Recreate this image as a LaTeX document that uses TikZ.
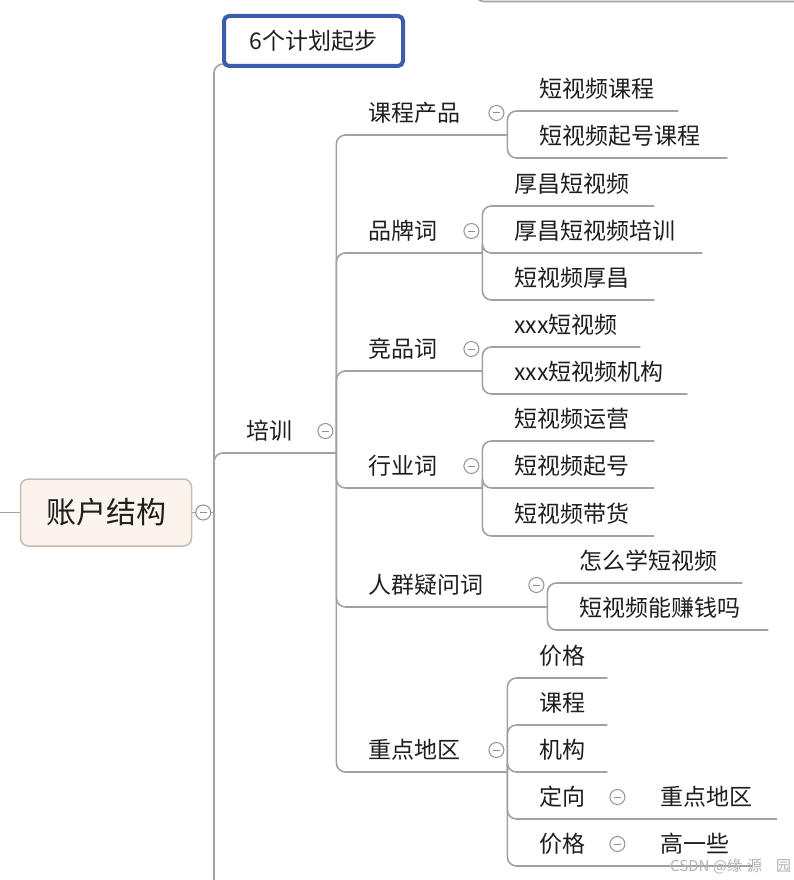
\documentclass[tikz,border=0pt]{standalone}
\usepackage{fontspec}
\setmainfont{Noto Sans CJK SC}
\usetikzlibrary{calc}
\definecolor{linegray}{HTML}{A2A2A2}
\definecolor{txt}{HTML}{1E1E1E}
\definecolor{selblue}{HTML}{3A5DAE}
\definecolor{rootfill}{HTML}{FBF4EC}
\definecolor{rootdraw}{HTML}{C6BDB2}
\pgfdeclarelayer{back}
\pgfdeclarelayer{bg}
\pgfsetlayers{back,bg,main}
\begin{document}
\begin{tikzpicture}[x=1pt,y=-1pt,
  conn/.style={draw=linegray, line width=1.6pt, rounded corners=9pt},
  tp/.style={anchor=south west, inner xsep=0pt, inner ysep=10pt, text depth=3pt,
    text height=18pt, align=left, text=txt, font=\fontsize{23}{26}\selectfont},
  col/.style={circle, draw=linegray!90!black, fill=white, minimum size=15pt, inner sep=0pt,
    line width=1pt, path picture={\draw[linegray!90!black, line width=1pt]
      ([xshift=-3.5pt]path picture bounding box.center) -- ([xshift=3.5pt]path picture bounding box.center);}},
  rootbox/.style={draw=rootdraw, fill=rootfill, line width=1.5pt, rounded corners=8pt,
    minimum width=171pt, minimum height=67pt, inner sep=0pt, text=txt,
    font=\fontsize{30}{34}\selectfont},
  selbox/.style={draw=selblue, fill=white, line width=4pt, rounded corners=5pt,
    minimum width=179pt, minimum height=50pt, inner sep=0pt, text=txt,
    font=\fontsize{23}{26}\selectfont},
  wm/.style={anchor=west, inner sep=0pt, text=gray!60, font=\fontsize{15}{17}\selectfont}]
\useasboundingbox (0,0) rectangle (794,880);
\begin{pgfonlayer}{back}
  \fill[white] (0,0) rectangle (794,880);
\end{pgfonlayer}

% root and first level
\node[rootbox] (A) at (106,512.5) {账户结构};
\node[selbox] (S) at (313.5,41) {6个计划起步};
\node[tp, text width=122pt] (P) at (214,453) {\noindent\hspace*{32pt}培训};

% second level
\node[tp, text width=171pt] (K) at (336,135) {\noindent\hspace*{32pt}课程产品};
\node[tp, text width=146pt] (B) at (336,253) {\noindent\hspace*{32pt}品牌词};
\node[tp, text width=146pt] (J) at (336,371) {\noindent\hspace*{32pt}竞品词};
\node[tp, text width=146pt] (H) at (336,488) {\noindent\hspace*{32pt}行业词};
\node[tp, text width=211pt] (R) at (336,607) {\noindent\hspace*{32pt}人群疑问词};
\node[tp, text width=171pt] (Z) at (336,772) {\noindent\hspace*{32pt}重点地区};

% third level
\node[tp, text width=171pt] (K1) at (507,111) {\noindent\hspace*{32pt}短视频课程};
\node[tp, text width=220pt] (K2) at (507,158) {\noindent\hspace*{32pt}短视频起号课程};
\node[tp, text width=172pt] (B1) at (482,206) {\noindent\hspace*{32pt}厚昌短视频};
\node[tp, text width=220pt] (B2) at (482,253) {\noindent\hspace*{32pt}厚昌短视频培训};
\node[tp, text width=172pt] (B3) at (482,300) {\noindent\hspace*{32pt}短视频厚昌};
\node[tp, text width=158pt] (J1) at (482,347) {\noindent\hspace*{32pt}xxx短视频};
\node[tp, text width=205pt] (J2) at (482,394) {\noindent\hspace*{32pt}xxx短视频机构};
\node[tp, text width=172pt] (H1) at (482,441) {\noindent\hspace*{32pt}短视频运营};
\node[tp, text width=172pt] (H2) at (482,488) {\noindent\hspace*{32pt}短视频起号};
\node[tp, text width=172pt] (H3) at (482,536) {\noindent\hspace*{32pt}短视频带货};
\node[tp, text width=195pt] (R1) at (547,583) {\noindent\hspace*{32pt}怎么学短视频};
\node[tp, text width=221pt] (R2) at (547,630) {\noindent\hspace*{32pt}短视频能赚钱吗};
\node[tp, text width=100pt] (Z1) at (507,678) {\noindent\hspace*{32pt}价格};
\node[tp, text width=100pt] (Z2) at (507,725) {\noindent\hspace*{32pt}课程};
\node[tp, text width=100pt] (Z3) at (507,772) {\noindent\hspace*{32pt}机构};
\node[tp, text width=121pt] (Z4) at (507,819) {\noindent\hspace*{32pt}定向};
\node[tp, text width=121pt] (Z5) at (507,866) {\noindent\hspace*{32pt}价格};
\node[tp, text width=149pt] (Z4a) at (628,819) {\noindent\hspace*{32pt}重点地区};
\node[tp, text width=125pt] (Z5a) at (628,866) {\noindent\hspace*{32pt}高一些};

% collapse markers
\node[col] (cA) at ($(A.east)+(11,0)$) {};
\foreach \n in {P,K,B,J,H,R,Z,Z4,Z5}
  \node[col] (c\n) at ($(\n.south east)+(-11,-22)$) {};

% off-picture ends
\coordinate (L0) at (0,512.5);
\coordinate (Bot) at (214,895);
\coordinate (T0) at (475,-14);
\coordinate (T1) at (794,1.5);
\coordinate (Rb) at (214,512.5);

% watermark
\node[wm] (W) at (670,866) {CSDN @缘\hspace{5pt}源\hspace{14pt}园};

\begin{pgfonlayer}{bg}
  \draw[conn] (T0) |- (T1);
  \draw[conn] (L0) -- (A.west);
  \draw[conn] (A.east) -- (Rb);
  \draw[conn] (Rb) |- ($(S.south west)+(8,-4)$);
  \draw[conn] (Rb) |- (P.south east);
  \draw[conn] (Rb) -- (Bot);
  \foreach \c in {K,B,J,H,R,Z} \draw[conn] (P.south east) |- (\c.south east);
  \foreach \c in {K1,K2} \draw[conn] (K.south east) |- (\c.south east);
  \foreach \c in {B1,B2,B3} \draw[conn] (B.south east) |- (\c.south east);
  \foreach \c in {J1,J2} \draw[conn] (J.south east) |- (\c.south east);
  \foreach \c in {H1,H2,H3} \draw[conn] (H.south east) |- (\c.south east);
  \foreach \c in {R1,R2} \draw[conn] (R.south east) |- (\c.south east);
  \foreach \c in {Z1,Z2,Z3,Z4,Z5} \draw[conn] (Z.south east) |- (\c.south east);
  \draw[conn] (Z4.south east) -- (Z4a.south east);
  \draw[conn] (Z5.south east) -- (Z5a.south east);
\end{pgfonlayer}
\end{tikzpicture}
\end{document}
